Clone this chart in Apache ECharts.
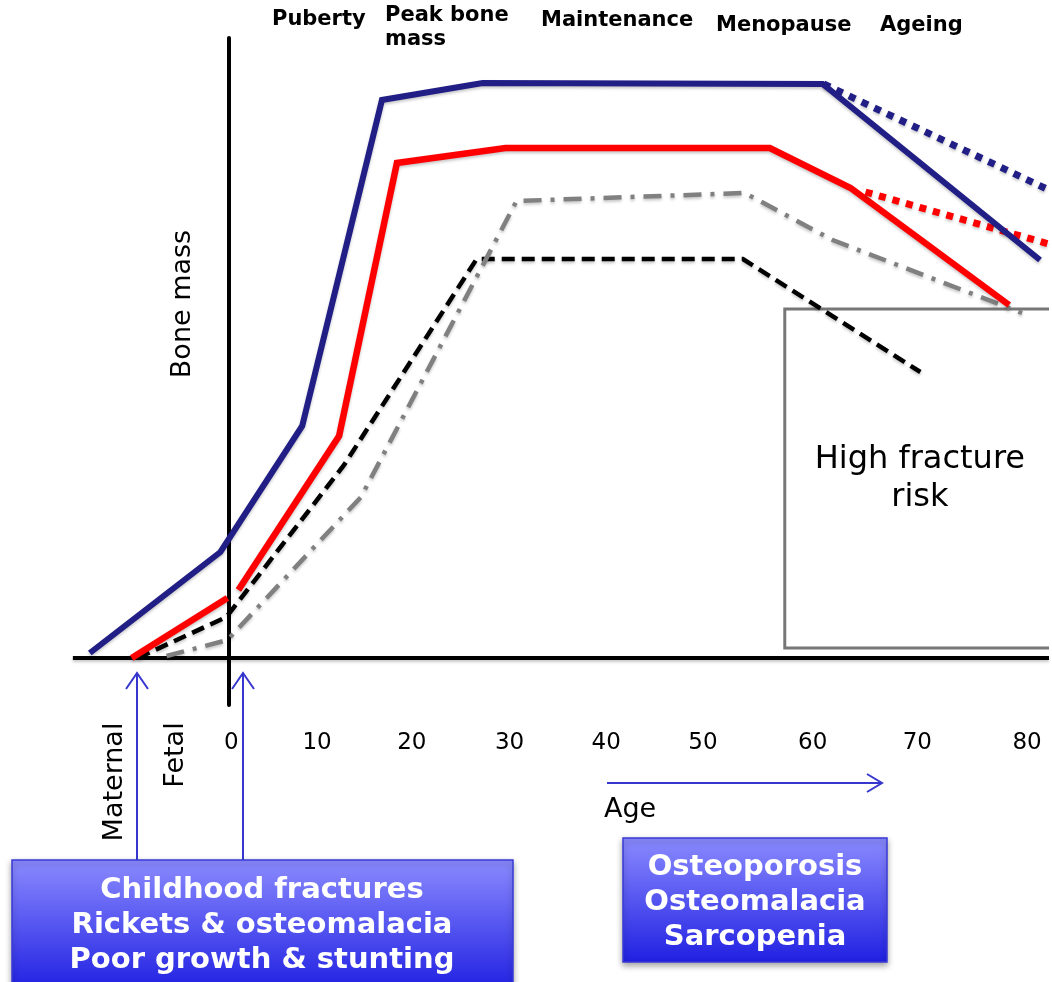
<!DOCTYPE html>
<html>
<head>
<meta charset="utf-8">
<title>Bone mass through life</title>
<script src="https://cdn.jsdelivr.net/npm/echarts@6/dist/echarts.min.js"></script>
<style>
  html, body { width: 100%; height: 100%; margin: 0; padding: 0; background: #fff; }
  #main { width: 1052px; height: 982px; }
</style>
</head>
<body>
<div id="main"></div>
<script>
// ages (years, negative = before birth) and bone mass (arbitrary units)
var blueSolid = [[-13.9, 0.5], [-0.8, 10.6], [7.4, 23.2], [15.4, 55.8], [25.5, 57.5], [59.6, 57.4], [81.4, 39.8]];
var blueDotted = [[59.7, 57.4], [82.3, 46.8]];
var redEarly = [[-9.7, 0], [-0.1, 6.0]];
var redLater = [[1.0, 6.8], [11.1, 22.2], [16.9, 49.5], [27.8, 51.0], [54.3, 51.0], [62.4, 47.0], [78.3, 35.3]];
var redDotted = [[63.9, 46.6], [82.3, 41.4]];
var grayDashDot = [[-6.2, 0.2], [-0.1, 1.8], [13.3, 16.1], [28.9, 45.7], [51.8, 46.5], [60.6, 41.8], [79.6, 34.5]];
var blackDashed = [[-9.1, 0], [-0.2, 4.1], [11.6, 19.3], [24.9, 39.9], [51.6, 39.9], [69.4, 28.6]];
var baseline = [[-15.6, 0], [82.3, 0]];
// high fracture risk zone: [left, top] and [right, bottom]; the right side is off the page
var riskBox = [[55.8, 34.9], [82.3, 1.0]];

var tickLabels = [0, 10, 20, 30, 40, 50, 60, 70, 80];
var phases = ['Puberty', 'Peak bone\nmass', 'Maintenance', 'Menopause', 'Ageing'];
var childhoodProblems = ['Childhood fractures', 'Rickets & osteomalacia', 'Poor growth & stunting'];
var adultProblems = ['Osteoporosis', 'Osteomalacia', 'Sarcopenia'];

var FONT = '"DejaVu Sans", Verdana, sans-serif';
var NAVY = '#211f86';
var ARROW = '#3737cf';

// the printed tick labels sit a little off the even spacing of the drawing
var labelNudge = [3, -11, -16, -18, -21, -24, -14, -9, 1];

var myChart = echarts.init(document.getElementById('main'));

function lineSeries(data, color, width, type, z) {
    return {
        type: 'line',
        data: data,
        symbol: 'none',
        silent: true,
        z: z || 3,
        lineStyle: {
            color: color,
            width: width,
            type: type || 'solid',
            cap: 'butt',
            join: 'miter',
            shadowColor: 'rgba(0,0,0,0.22)',
            shadowBlur: 3,
            shadowOffsetY: 2
        }
    };
}

var tickRich = {};
tickLabels.forEach(function (t, i) {
    var d = labelNudge[i];
    tickRich['t' + t] = {
        fontSize: 23,
        fontFamily: FONT,
        color: '#000',
        padding: d < 0 ? [0, -2 * d, 0, 0] : [0, 0, 0, 2 * d]
    };
});

var boxFill = new echarts.graphic.LinearGradient(0, 0, 0, 1, [
    { offset: 0, color: '#8b8bff' },
    { offset: 1, color: '#2020e2' }
]);

var phaseX = [272, 385, 541, 716, 880];
var phaseY = [20, 28, 21, 26, 26];

var graphics = [];
phases.forEach(function (p, i) {
    graphics.push({
        type: 'text', x: phaseX[i], y: phaseY[i],
        style: { text: p, font: 'bold 21px ' + FONT, fill: '#000', align: 'left', verticalAlign: 'middle', lineHeight: 24 }
    });
});
graphics.push(
    { type: 'text', x: 183, y: 304, rotation: Math.PI / 2,
      style: { text: 'Bone mass', font: '27px ' + FONT, fill: '#000', align: 'center', verticalAlign: 'middle' } },
    { type: 'text', x: 115, y: 782, rotation: Math.PI / 2,
      style: { text: 'Maternal', font: '27px ' + FONT, fill: '#000', align: 'center', verticalAlign: 'middle' } },
    { type: 'text', x: 176, y: 755, rotation: Math.PI / 2,
      style: { text: 'Fetal', font: '27px ' + FONT, fill: '#000', align: 'center', verticalAlign: 'middle' } },
    { type: 'text', x: 604, y: 810,
      style: { text: 'Age', font: '27px ' + FONT, fill: '#000', align: 'left', verticalAlign: 'middle' } },
    // arrows
    { type: 'polyline', shape: { points: [[137, 866], [137, 673]] }, style: { stroke: ARROW, lineWidth: 2, fill: null } },
    { type: 'polyline', shape: { points: [[126, 689], [137, 673], [148, 689]] }, style: { stroke: ARROW, lineWidth: 2, fill: null } },
    { type: 'polyline', shape: { points: [[243, 866], [243, 673]] }, style: { stroke: ARROW, lineWidth: 2, fill: null } },
    { type: 'polyline', shape: { points: [[232, 689], [243, 673], [254, 689]] }, style: { stroke: ARROW, lineWidth: 2, fill: null } },
    { type: 'polyline', shape: { points: [[607, 783], [882, 783]] }, style: { stroke: ARROW, lineWidth: 2, fill: null } },
    { type: 'polyline', shape: { points: [[867, 774], [882, 783], [867, 792]] }, style: { stroke: ARROW, lineWidth: 2, fill: null } },
    // boxes
    { type: 'rect', z: 10, shape: { x: 12, y: 860, width: 501, height: 130 },
      style: { fill: boxFill, stroke: '#3a3ad6', lineWidth: 1.5, shadowBlur: 6, shadowColor: 'rgba(0,0,0,0.35)', shadowOffsetY: 3 } },
    { type: 'text', z: 11, x: 262, y: 925,
      style: { text: childhoodProblems.join('\n'), font: 'bold 29px ' + FONT, fill: '#fff', align: 'center', verticalAlign: 'middle', lineHeight: 35 } },
    { type: 'rect', z: 10, shape: { x: 623, y: 838, width: 264, height: 124 },
      style: { fill: boxFill, stroke: '#3a3ad6', lineWidth: 1.5, shadowBlur: 6, shadowColor: 'rgba(0,0,0,0.35)', shadowOffsetY: 3 } },
    { type: 'text', z: 11, x: 755, y: 902,
      style: { text: adultProblems.join('\n'), font: 'bold 29px ' + FONT, fill: '#fff', align: 'center', verticalAlign: 'middle', lineHeight: 35 } }
);

// open-ended outline of the risk zone (top, left and bottom sides only)
var riskOutline = [
    [riskBox[1][0], riskBox[0][1]],
    [riskBox[0][0], riskBox[0][1]],
    [riskBox[0][0], riskBox[1][1]],
    [riskBox[1][0], riskBox[1][1]]
];

var series = [
    lineSeries(baseline, '#000', 4, 'solid', 2),
    {
        type: 'line', data: riskOutline, symbol: 'none', silent: true, z: 1,
        lineStyle: { color: '#777', width: 3, join: 'miter', cap: 'butt' },
        markArea: {
            silent: true,
            itemStyle: { color: 'rgba(0,0,0,0)', borderWidth: 0 },
            label: { show: true, position: 'inside', offset: [3, 0], formatter: 'High fracture\nrisk', fontFamily: FONT, fontSize: 32, color: '#000', lineHeight: 38 },
            data: [[{ coord: riskBox[0] }, { coord: riskBox[1] }]]
        }
    },
    lineSeries(blackDashed, '#000', 4.5, [13, 7]),
    lineSeries(grayDashDot, '#808080', 4.5, [18, 9, 4, 9]),
    lineSeries(redEarly, '#ff0000', 6.5),
    lineSeries(redLater, '#ff0000', 6.5),
    lineSeries(redDotted, '#ff0000', 7, [7, 7]),
    lineSeries(blueDotted, NAVY, 7, [7, 7]),
    lineSeries(blueSolid, NAVY, 6, 'solid', 4)
];

myChart.setOption({
    animation: false,
    backgroundColor: '#fff',
    grid: { left: 29, right: 0, top: 38, bottom: 277 },
    xAxis: {
        type: 'value',
        min: -20,
        max: 82.3,
        interval: 10,
        axisLine: { show: false },
        axisTick: { show: false },
        splitLine: { show: false },
        axisLabel: {
            margin: 27,
            fontSize: 23,
            fontFamily: FONT,
            color: '#000',
            rich: tickRich,
            formatter: function (v) {
                return tickLabels.indexOf(v) >= 0 ? '{t' + v + '|' + v + '}' : '';
            }
        }
    },
    yAxis: {
        type: 'value',
        min: -4.7,
        max: 62,
        axisLine: { show: true, onZero: true, lineStyle: { color: '#000', width: 4 } },
        axisTick: { show: false },
        axisLabel: { show: false },
        splitLine: { show: false }
    },
    series: series,
    graphic: graphics
});
</script>
</body>
</html>
